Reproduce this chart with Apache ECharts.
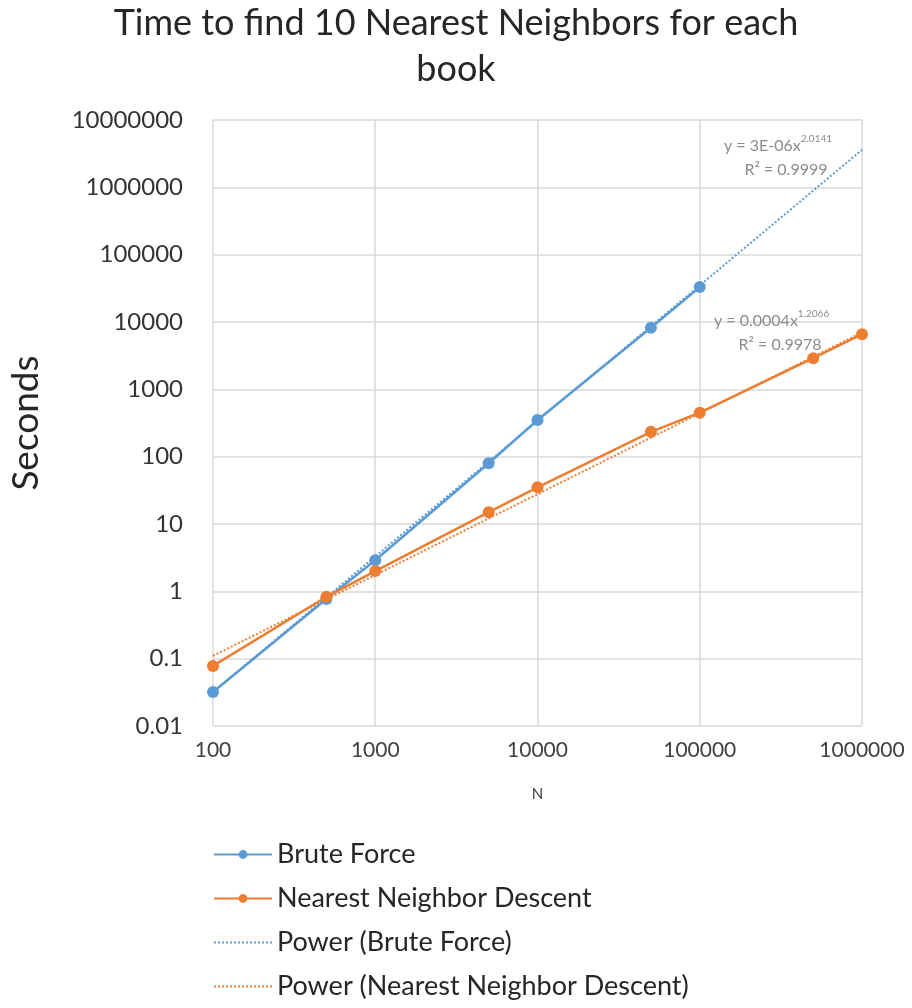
<!DOCTYPE html>
<html>
<head>
<meta charset="utf-8">
<title>Time to find 10 Nearest Neighbors</title>
<script src="https://cdn.jsdelivr.net/npm/echarts@6/dist/echarts.min.js"></script>
<style>
  html, body { margin: 0; padding: 0; background: #fff; }
  #chart { width: 912px; height: 1008px; }
</style>
</head>
<body>
<div id="chart"></div>
<script>
// N values and timings (seconds)
const nBrute = [100, 500, 1000, 5000, 10000, 50000, 100000];
const secBrute = [0.032, 0.77, 2.9, 80, 350, 8200, 33000];
const nNnd = [100, 500, 1000, 5000, 10000, 50000, 100000, 500000, 1000000];
const secNnd = [0.078, 0.83, 2.0, 15, 35, 234, 450, 2900, 6600];

// trendline end points (straight on log-log)
const trendN = [100, 1000000];
const trendBrute = [0.032, 3600000];
const trendNnd = [0.11, 7000];

const yTicks = ['0.01', '0.1', '1', '10', '100', '1000', '10000', '100000', '1000000', '10000000'];

const blue = '#5b9bd5';
const orange = '#ed7d31';
const font = 'Lato, "Open Sans", sans-serif';

function pairs(xs, ys) {
    return xs.map((x, i) => [x, ys[i]]);
}

let chart;

window.onload = init;

function init() {
    chart = echarts.init(document.getElementById('chart'), null, { renderer: 'canvas' });

    let rich = {
        t: { fontSize: 16, fill: '#8c8c8c', fontFamily: font, lineHeight: 24 },
        s: { fontSize: 10, fill: '#8c8c8c', fontFamily: font, verticalAlign: 'top', padding: [0, 0, 8, 0] }
    };

    let options = {
        animation: false,
        textStyle: { fontFamily: font },
        title: {
            text: 'Time to find 10 Nearest Neighbors for each\nbook',
            left: 'center',
            top: -5,
            textStyle: { fontFamily: font, fontSize: 36, fontWeight: 'normal', color: '#262626', lineHeight: 46 }
        },
        grid: { left: 210, right: 50, top: 120, bottom: 282 },
        xAxis: {
            type: 'log',
            logBase: 10,
            min: 100,
            max: 1000000,
            name: 'N',
            nameLocation: 'middle',
            nameGap: 61,
            nameTextStyle: { fontSize: 15, color: '#404040' },
            axisLine: { show: false },
            axisTick: { show: false },
            axisLabel: {
                margin: 14,
                fontSize: 21,
                color: '#404040',
                formatter: v => String(+v.toPrecision(6))
            },
            splitLine: { lineStyle: { color: '#d9d9d9', width: 1.5 } }
        },
        yAxis: {
            type: 'log',
            logBase: 10,
            min: 0.01,
            max: 10000000,
            name: 'Seconds',
            nameLocation: 'middle',
            nameGap: 168,
            nameTextStyle: { fontSize: 37, color: '#262626' },
            axisLine: { show: false },
            axisTick: { show: false },
            axisLabel: {
                margin: 30,
                fontSize: 24,
                color: '#333333',
                formatter: v => {
                    let s = String(+v.toPrecision(6));
                    return yTicks.indexOf(s) >= 0 ? s : '';
                }
            },
            splitLine: { lineStyle: { color: '#d9d9d9', width: 1.5 } }
        },
        legend: {
            orient: 'vertical',
            left: 208,
            top: 836,
            itemWidth: 58,
            itemHeight: 11,
            itemGap: 17,
            textStyle: { fontSize: 27, color: '#262626' },
            data: [
                'Brute Force',
                'Nearest Neighbor Descent',
                { name: 'Power (Brute Force)', itemStyle: { opacity: 0 } },
                { name: 'Power (Nearest Neighbor Descent)', itemStyle: { opacity: 0 } }
            ]
        },
        series: [
            {
                name: 'Power (Brute Force)',
                type: 'line',
                data: pairs(trendN, trendBrute),
                showSymbol: false,
                symbol: 'none',
                lineStyle: { color: blue, width: 2, type: [2, 2] },
                itemStyle: { color: blue },
                z: 1
            },
            {
                name: 'Power (Nearest Neighbor Descent)',
                type: 'line',
                data: pairs(trendN, trendNnd),
                showSymbol: false,
                symbol: 'none',
                lineStyle: { color: orange, width: 2, type: [2, 2] },
                itemStyle: { color: orange },
                z: 1
            },
            {
                name: 'Brute Force',
                type: 'line',
                data: pairs(nBrute, secBrute),
                symbol: 'circle',
                symbolSize: 12,
                lineStyle: { color: blue, width: 2.5 },
                itemStyle: { color: blue },
                z: 3
            },
            {
                name: 'Nearest Neighbor Descent',
                type: 'line',
                data: pairs(nNnd, secNnd),
                symbol: 'circle',
                symbolSize: 12,
                lineStyle: { color: orange, width: 2.5 },
                itemStyle: { color: orange },
                z: 3
            }
        ],
        graphic: [
            {
                type: 'text',
                left: 724,
                top: 134,
                z: 10,
                style: { text: '{t|y = 3E-06x}{s|2.0141}\n{t|     R² = 0.9999}', rich: rich }
            },
            {
                type: 'text',
                left: 714,
                top: 309,
                z: 10,
                style: { text: '{t|y = 0.0004x}{s|1.2066}\n{t|      R² = 0.9978}', rich: rich }
            }
        ]
    };

    chart.setOption(options);
}
</script>
</body>
</html>
